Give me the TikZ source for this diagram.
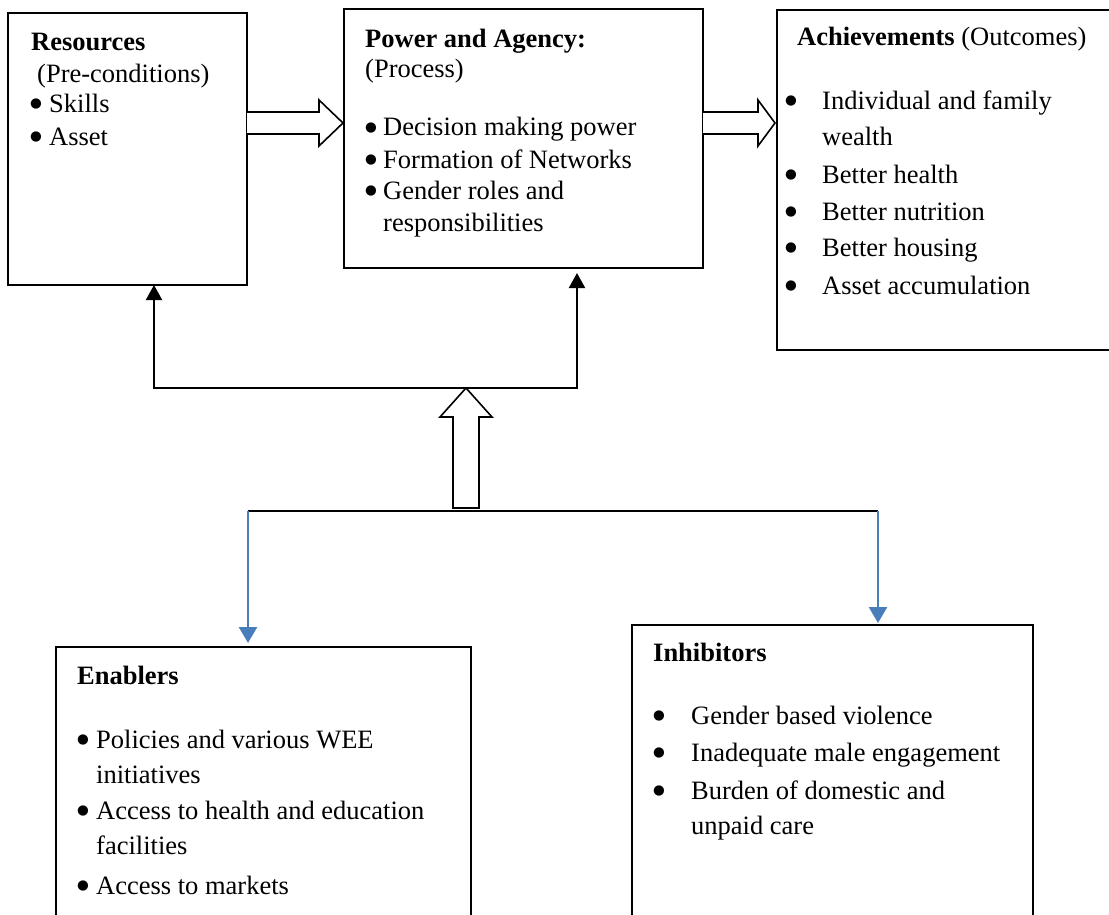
\documentclass[tikz,border=0pt]{standalone}
\usepackage{fontspec}
\setmainfont{Liberation Serif}
\newfontfamily\djv{DejaVu Sans}
\usetikzlibrary{arrows.meta}
\definecolor{wblue}{HTML}{4A7EBB}
\newcommand\bul{\raisebox{5pt}{\djv\fontsize{13.5}{14}\selectfont ●}}
\begin{document}
\begin{tikzpicture}[x=1pt,y=-1pt,
 box/.style={draw, line width=1.6pt, anchor=north west, inner sep=0pt, outer sep=0pt},
 txt/.style={anchor=base west, inner sep=0pt, font=\fontsize{26.5}{30}\selectfont},
 hollow/.style={draw, fill=white, line width=1.6pt, line join=miter},
 conn/.style={line width=2pt, -{Triangle[width=16pt,length=15pt]}},
 blueconn/.style={draw=wblue, line width=2.5pt, -{Triangle[width=18pt,length=16pt]}}
]
\useasboundingbox (0,0) rectangle (1109,915);
\clip (0,0) rectangle (1109,915);

% boxes
\node[box, minimum width=239pt, minimum height=272pt] (res) at (8,13) {};
\node[box, minimum width=359pt, minimum height=259pt] (pow) at (344,9) {};
\node[box, minimum width=400pt, minimum height=340pt] (ach) at (777,10) {};
\node[box, minimum width=415pt, minimum height=330pt] (en) at (56,647) {};
\node[box, minimum width=401pt, minimum height=330pt] (inh) at (632,625) {};

% hollow arrows
\draw[hollow] (res.east |- 0,112) -- (319,112) -- (319,100) -- (343,123) -- (319,146) -- (319,134) -- (res.east |- 0,134);
\draw[hollow] (pow.east |- 0,112) -- (758,112) -- (758,100) -- (775,123) -- (758,146) -- (758,134) -- (pow.east |- 0,134);
\coordinate (up) at (466,388);
\draw[hollow] (up) -- (492,417) -- (479,417) -- (479,508) -- (453,508) -- (453,417) -- (440,417) -- cycle;

% black connectors
\coordinate (hubL) at (154,388);
\coordinate (hubR) at (577,388);
\draw[conn] (hubR) -- (hubL) -- (hubL |- res.south);
\draw[conn, shorten >=5pt] (hubL) -- (hubR) -- (hubR |- pow.south);

% bottom connectors
\coordinate (bL) at (248,511);
\coordinate (bR) at (878,511);
\draw[line width=2pt] (bL) -- (bR);
\draw[blueconn, shorten >=4pt] (bL) -- (bL |- en.north);
\draw[blueconn, shorten >=2pt] (bR) -- (bR |- inh.north);

% Resources text
\node[txt] (r0) at (31,51) {\textbf{Resources}};
\node[txt] (r1) at (37,83) {(Pre-conditions)};
\node[txt] (r2b) at (30,113) {\bul};
\node[txt] (r2) at (49,113) {Skills};
\node[txt] (r3b) at (30,146) {\bul};
\node[txt] (r3) at (49,146) {Asset};

% Power text
\node[txt] (p0) at (365,48) {\textbf{Power and Agency:}};
\node[txt] (p1) at (365,78) {(Process)};
\node[txt] (p2b) at (365,136) {\bul};
\node[txt] (p2) at (383,136) {Decision making power};
\node[txt] (p3b) at (365,168) {\bul};
\node[txt] (p3) at (383,168) {Formation of Networks};
\node[txt] (p4b) at (365,200) {\bul};
\node[txt] (p4) at (383,200) {Gender roles and};
\node[txt] (p5) at (383,231) {responsibilities};

% Achievements text
\node[txt] (a0) at (797,46) {\textbf{Achievements} (Outcomes)};
\node[txt] (a1b) at (785,110) {\bul};
\node[txt] (a1) at (822,110) {Individual and family};
\node[txt] (a2) at (822,146) {wealth};
\node[txt] (a3b) at (785,183) {\bul};
\node[txt] (a3) at (822,183) {Better health};
\node[txt] (a4b) at (785,220) {\bul};
\node[txt] (a4) at (822,220) {Better nutrition};
\node[txt] (a5b) at (785,256) {\bul};
\node[txt] (a5) at (822,256) {Better housing};
\node[txt] (a6b) at (785,294) {\bul};
\node[txt] (a6) at (822,294) {Asset accumulation};

% Enablers text
\node[txt] (e0) at (77,684) {\textbf{Enablers}};
\node[txt] (e1b) at (77,748) {\bul};
\node[txt] (e1) at (96,748) {Policies and various WEE};
\node[txt] (e2) at (96,783) {initiatives};
\node[txt] (e3b) at (77,819) {\bul};
\node[txt] (e3) at (96,819) {Access to health and education};
\node[txt] (e4) at (96,854) {facilities};
\node[txt] (e5b) at (77,894) {\bul};
\node[txt] (e5) at (96,894) {Access to markets};

% Inhibitors text
\node[txt] (i0) at (653,661) {\textbf{Inhibitors}};
\node[txt] (i1b) at (653,724) {\bul};
\node[txt] (i1) at (691,724) {Gender based violence};
\node[txt] (i2b) at (653,761) {\bul};
\node[txt] (i2) at (691,761) {Inadequate male engagement};
\node[txt] (i3b) at (653,799) {\bul};
\node[txt] (i3) at (691,799) {Burden of domestic and};
\node[txt] (i4) at (691,834) {unpaid care};
\end{tikzpicture}
\end{document}
